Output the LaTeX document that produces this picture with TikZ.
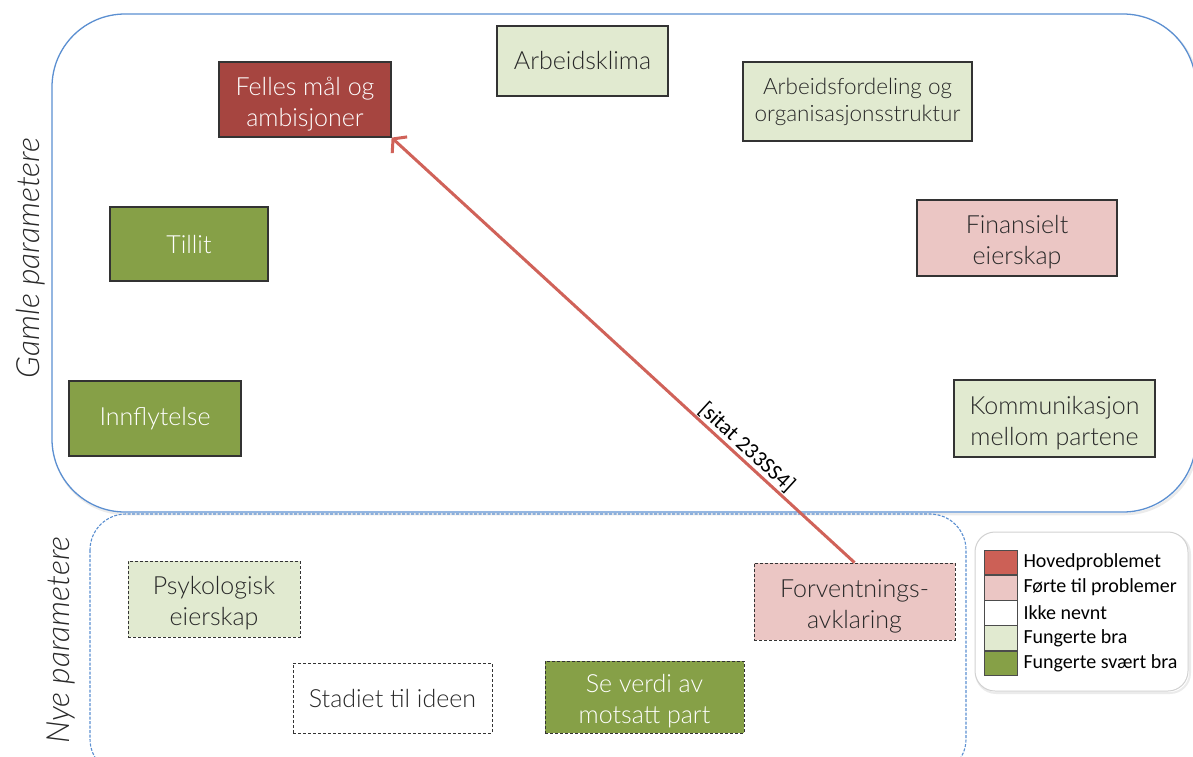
\documentclass[tikz,border=0pt]{standalone}
\usepackage{fontspec}
\setmainfont{Lato Light}[ItalicFont={Lato Light Italic}]
\newfontfamily\calibri{Carlito}
\usetikzlibrary{arrows.meta}

% invisible strut that sets two-line labels slightly lower in their boxes
\newcommand{\linelift}{\rule{0pt}{27pt}}

\definecolor{frameblue}{RGB}{91,143,209}
\definecolor{darkred}{RGB}{166,69,64}
\definecolor{mainred}{RGB}{204,96,86}
\definecolor{palered}{RGB}{235,198,196}
\definecolor{palegreen}{RGB}{225,234,208}
\definecolor{deepgreen}{RGB}{134,160,71}
\definecolor{arrowred}{RGB}{208,98,89}
\definecolor{inkgray}{RGB}{40,40,40}

\begin{document}
\begin{tikzpicture}[x=1pt,y=-1pt,
  param/.style={align=center, inner sep=0pt, text=inkgray,
                font=\fontsize{25}{31}\selectfont},
  oldbox/.style={param, draw=black!80, line width=1.2pt},
  newbox/.style={param, draw=black!80, line width=0.9pt, dash pattern=on 3pt off 2pt},
  swatch/.style={draw=black!70, line width=0.6pt, minimum width=33pt, minimum height=24.6pt, inner sep=0pt},
  legendtxt/.style={anchor=west, inner sep=0pt, text=black, font=\calibri\fontsize{20}{24}\selectfont},
  sidelabel/.style={rotate=90, text=inkgray, font=\itshape\fontsize{32}{38}\selectfont}
]
\useasboundingbox (0,0) rectangle (1193,756);
\clip (0,0) rectangle (1193,756);

% group frames
\draw[black!8, line width=2.5pt, rounded corners=73pt] (53.5,16) rectangle (1197.5,514);
\draw[frameblue, line width=1.3pt, fill=white, rounded corners=73pt] (52,14) rectangle (1196,512);
\draw[frameblue, line width=1.1pt, dash pattern=on 3pt off 1.5pt, rounded corners=36pt] (90,514) rectangle (966,775);

% legend frame
\draw[black!8, line width=2pt, rounded corners=20pt] (976,534) rectangle (1190,693);
\draw[black!18, line width=1pt, fill=white, rounded corners=20pt] (975,532) rectangle (1188,691);

% side labels
\node[sidelabel] (gamle) at (31,258) {Gamle parametere};
\node[sidelabel] (nye) at (61,640) {Nye parametere};

% established parameters
\node[oldbox, fill=darkred, text=white, minimum width=172pt, minimum height=75pt] (felles) at (305,99.5) {\linelift Felles mål og\\ambisjoner};
\node[oldbox, fill=palegreen, minimum width=171pt, minimum height=70pt] (klima) at (582.5,61) {Arbeidsklima};
\node[oldbox, fill=palegreen, minimum width=229pt, minimum height=79pt, font=\fontsize{22.5}{27}\selectfont] (fordeling) at (857.5,101.5) {Arbeidsfordeling og\\organisasjonsstruktur};
\node[oldbox, fill=deepgreen, text=white, minimum width=158pt, minimum height=74pt] (tillit) at (189,244) {Tillit};
\node[oldbox, fill=palered, minimum width=200pt, minimum height=76pt] (finans) at (1017,238) {\linelift Finansielt\\eierskap};
\node[oldbox, fill=deepgreen, text=white, minimum width=172pt, minimum height=75pt] (innfly) at (155,418.5) {Innflytelse};
\node[oldbox, fill=palegreen, minimum width=201pt, minimum height=77pt] (komm) at (1054.5,418.5) {\linelift Kommunikasjon\\mellom partene};

% new parameters
\node[newbox, fill=palegreen, minimum width=172pt, minimum height=76pt] (psyk) at (214,599) {\linelift Psykologisk\\eierskap};
\node[newbox, fill=palered, minimum width=201pt, minimum height=77pt] (forv) at (854.5,601.5) {\linelift Forventnings-\\avklaring};
\node[newbox, fill=white, minimum width=199pt, minimum height=70pt] (stadiet) at (392.5,698) {Stadiet til ideen};
\node[newbox, fill=deepgreen, text=white, minimum width=199pt, minimum height=72pt] (severdi) at (644.5,697) {\linelift Se verdi av\\motsatt part};

% legend
\node[swatch, fill=mainred] (lg1) at (1000.5,562.3) {};
\node[swatch, fill=palered, anchor=north] (lg2) at (lg1.south) {};
\node[swatch, fill=white, anchor=north] (lg3) at (lg2.south) {};
\node[swatch, fill=palegreen, anchor=north] (lg4) at (lg3.south) {};
\node[swatch, fill=deepgreen, anchor=north] (lg5) at (lg4.south) {};
\node[legendtxt] (lt1) at ([xshift=6pt]lg1.east) {Hovedproblemet};
\node[legendtxt] (lt2) at ([xshift=6pt]lg2.east) {Førte til problemer};
\node[legendtxt] (lt3) at ([xshift=6pt]lg3.east) {Ikke nevnt};
\node[legendtxt] (lt4) at ([xshift=6pt]lg4.east) {Fungerte bra};
\node[legendtxt] (lt5) at ([xshift=6pt]lg5.east) {Fungerte svært bra};

% reference arrow
\draw[arrowred, line width=3pt, -{Straight Barb[length=9pt,width=22pt]}]
  (forv.north) -- node[sloped, above, pos=0.25, inner sep=1pt, text=black, font=\calibri\fontsize{22}{26}\selectfont] (sitat) {[sitat 233SS4]} (felles.south east);
\end{tikzpicture}
\end{document}
